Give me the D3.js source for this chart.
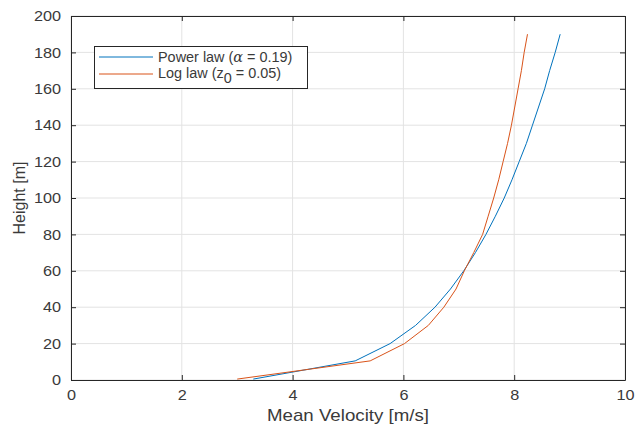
<!DOCTYPE html>
<html>
<head>
<meta charset="utf-8">
<script src="https://cdn.jsdelivr.net/npm/d3@7"></script>
<style>
  body { margin: 0; background: #fff; }
  svg { font-family: "Liberation Sans", Arial, sans-serif; }
</style>
</head>
<body>
<div id="chart"></div>
<script>
// heights [m]
const heights = [0.5, 10.5, 20, 30, 40, 50, 60, 70, 80, 90, 100, 110, 120, 130, 140, 150, 160, 170, 180, 190];
// mean velocity [m/s]
const powerLaw = [3.29, 5.13, 5.76, 6.22, 6.57, 6.85, 7.09, 7.30, 7.49, 7.66, 7.82, 7.96, 8.09, 8.22, 8.33, 8.44, 8.55, 8.64, 8.74, 8.83];
const logLaw = [3.00, 5.40, 6.02, 6.45, 6.73, 6.95, 7.10, 7.27, 7.43, 7.53, 7.63, 7.72, 7.80, 7.88, 7.95, 8.01, 8.07, 8.13, 8.18, 8.24];

const xTicks = [0, 2, 4, 6, 8, 10];
const yTicks = [0, 20, 40, 60, 80, 100, 120, 140, 160, 180, 200];

const width = 635, height = 425;
const margin = { top: 16, right: 10, bottom: 45, left: 71 };

const svg = d3.select('#chart').append('svg')
    .attr('width', width)
    .attr('height', height);

const x = d3.scaleLinear().domain([0, 10]).range([margin.left, width - margin.right]);
const y = d3.scaleLinear().domain([0, 200]).range([height - margin.bottom, margin.top]);

const axisColor = '#262626';
const textColor = '#3a3a3a';
const gridColor = '#e3e3e3';

// the picture is a bit wider than tall, so text gets stretched sideways
function stretch(sel, k) {
    sel.each(function () {
        const w = this.getComputedTextLength();
        d3.select(this).attr('textLength', w * k).attr('lengthAdjust', 'spacingAndGlyphs');
    });
}

// grid
svg.append('g').selectAll('line')
    .data(xTicks)
    .join('line')
    .attr('x1', d => x(d)).attr('x2', d => x(d))
    .attr('y1', y(0)).attr('y2', y(200))
    .attr('stroke', gridColor).attr('stroke-width', 1);

svg.append('g').selectAll('line')
    .data(yTicks)
    .join('line')
    .attr('y1', d => y(d)).attr('y2', d => y(d))
    .attr('x1', x(0)).attr('x2', x(10))
    .attr('stroke', gridColor).attr('stroke-width', 1);

// axes (ticks inward)
const xAxis = svg.append('g')
    .attr('transform', `translate(0,${y(0)})`)
    .call(d3.axisBottom(x).tickValues(xTicks).tickSizeInner(-5).tickSizeOuter(0).tickPadding(10));
const yAxis = svg.append('g')
    .attr('transform', `translate(${x(0)},0)`)
    .call(d3.axisLeft(y).tickValues(yTicks).tickSizeInner(-5).tickSizeOuter(0).tickPadding(10));
const xTop = svg.append('g')
    .attr('transform', `translate(0,${y(200)})`)
    .call(d3.axisTop(x).tickValues(xTicks).tickSizeInner(-5).tickSizeOuter(0).tickFormat(''));
const yRight = svg.append('g')
    .attr('transform', `translate(${x(10)},0)`)
    .call(d3.axisRight(y).tickValues(yTicks).tickSizeInner(-5).tickSizeOuter(0).tickFormat(''));

[xAxis, yAxis, xTop, yRight].forEach(g => {
    g.select('.domain').attr('stroke', axisColor).attr('stroke-width', 1);
    g.selectAll('.tick line').attr('stroke', axisColor);
    g.selectAll('.tick text')
        .attr('fill', textColor)
        .style('font-size', '14.5px');
});
stretch(xAxis.selectAll('.tick text'), 1.12);
stretch(yAxis.selectAll('.tick text'), 1.12);

// axis titles
const xTitle = svg.append('text')
    .attr('x', (x(0) + x(10)) / 2)
    .attr('y', 421)
    .attr('text-anchor', 'middle')
    .attr('fill', textColor)
    .style('font-size', '17px')
    .text('Mean Velocity [m/s]');
stretch(xTitle, 1.1);

svg.append('text')
    .attr('transform', `translate(25,${(y(0) + y(200)) / 2}) rotate(-90)`)
    .attr('text-anchor', 'middle')
    .attr('fill', textColor)
    .style('font-size', '16px')
    .text('Height [m]');

// lines
const line = d3.line()
    .x(d => x(d[0]))
    .y(d => y(d[1]));

const series = [
    { name: 'power', color: '#0072BD', values: powerLaw },
    { name: 'log', color: '#D95319', values: logLaw }
];

svg.append('g').selectAll('path')
    .data(series)
    .join('path')
    .attr('d', s => line(s.values.map((v, i) => [v, heights[i]])))
    .attr('fill', 'none')
    .attr('stroke', s => s.color)
    .attr('stroke-width', 1);

// legend
const legend = svg.append('g');
legend.append('rect')
    .attr('x', 94.5).attr('y', 46.5)
    .attr('width', 213).attr('height', 42)
    .attr('fill', '#fff')
    .attr('stroke', axisColor)
    .attr('stroke-width', 1);

const rows = [57, 74];
series.forEach((s, i) => {
    legend.append('line')
        .attr('x1', 99).attr('x2', 153)
        .attr('y1', rows[i]).attr('y2', rows[i])
        .attr('stroke', s.color).attr('stroke-width', 1);
});

const t1 = legend.append('text')
    .attr('x', 158).attr('y', rows[0] + 5)
    .attr('fill', textColor)
    .style('font-size', '14px');
t1.append('tspan').text('Power law (');
t1.append('tspan').style('font-style', 'italic').style('font-family', '"DejaVu Serif", serif').text('α');
t1.append('tspan').text(' = 0.19)');
stretch(t1, 1.03);

const t2 = legend.append('text')
    .attr('x', 158).attr('y', rows[1] + 4)
    .attr('fill', textColor)
    .style('font-size', '14px');
t2.append('tspan').text('Log law (z');
t2.append('tspan').attr('dy', 5).text('0');
t2.append('tspan').attr('dy', -5).text(' = 0.05)');
stretch(t2, 1.03);
</script>
</body>
</html>
